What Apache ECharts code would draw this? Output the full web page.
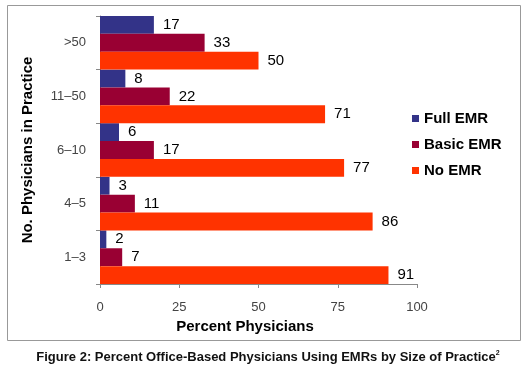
<!DOCTYPE html>
<html>
<head>
<meta charset="utf-8">
<script src="https://cdn.jsdelivr.net/npm/echarts@6/dist/echarts.min.js"></script>
<style>
  html, body { margin: 0; padding: 0; background: #fff; }
  #chart { width: 527px; height: 377px; }
</style>
</head>
<body>
<div id="chart"></div>
<script>
var practiceSizes = ['>50', '11\u201350', '6\u201310', '4\u20135', '1\u20133'];
var fullEmr = [17, 8, 6, 3, 2];
var basicEmr = [33, 22, 17, 11, 7];
var noEmr = [50, 71, 77, 86, 91];
var xTicks = [0, 25, 50, 75, 100];

var myChart = echarts.init(document.getElementById('chart'));

var labelStyle = {
  show: true,
  position: 'right',
  distance: 9,
  color: '#000',
  fontFamily: 'Liberation Sans, Arial, sans-serif',
  fontSize: 15
};

var option = {
  backgroundColor: '#fff',
  animation: false,
  grid: {
    left: 100,
    right: 110,
    top: 16,
    bottom: 93
  },
  legend: {
    orient: 'vertical',
    left: 407,
    top: 106,
    itemWidth: 7,
    itemHeight: 7,
    itemGap: 11,
    icon: 'rect',
    textStyle: {
      fontFamily: 'Liberation Sans, Arial, sans-serif',
      fontWeight: 'bold',
      fontSize: 15,
      color: '#000'
    },
    data: ['Full EMR', 'Basic EMR', 'No EMR']
  },
  xAxis: {
    type: 'value',
    min: 0,
    max: 100,
    interval: 25,
    splitLine: { show: false },
    axisLine: { show: true, lineStyle: { color: '#888' } },
    axisTick: { show: true, length: 4, lineStyle: { color: '#888' } },
    axisLabel: {
      margin: 17,
      color: '#444',
      fontFamily: 'Liberation Sans, Arial, sans-serif',
      fontSize: 13,
      formatter: function (v) { return xTicks.indexOf(v) >= 0 ? String(v) : ''; }
    }
  },
  yAxis: {
    type: 'category',
    inverse: true,
    data: practiceSizes,
    axisLine: { show: true, lineStyle: { color: '#888' } },
    axisTick: { show: true, length: 4, lineStyle: { color: '#888' } },
    axisLabel: {
      margin: 14,
      color: '#444',
      fontFamily: 'Liberation Sans, Arial, sans-serif',
      fontSize: 13
    }
  },
  series: [
    { name: 'Full EMR', type: 'bar', data: fullEmr, color: '#333388',
      barGap: '0%', barCategoryGap: '0%', label: labelStyle },
    { name: 'Basic EMR', type: 'bar', data: basicEmr, color: '#990033',
      label: labelStyle },
    { name: 'No EMR', type: 'bar', data: noEmr, color: '#FF3300',
      label: labelStyle }
  ],
  graphic: [
    {
      type: 'rect',
      shape: { x: 7.5, y: 5.5, width: 513, height: 335 },
      style: { fill: 'none', stroke: '#999', lineWidth: 1 },
      silent: true
    },
    {
      type: 'text',
      x: 28, y: 150,
      rotation: Math.PI / 2,
      style: {
        text: 'No. Physicians in Practice',
        fontFamily: 'Liberation Sans, Arial, sans-serif',
        fontWeight: 'bold',
        fontSize: 15,
        fill: '#000',
        align: 'center',
        verticalAlign: 'middle'
      }
    },
    {
      type: 'text',
      x: 245, y: 327,
      style: {
        text: 'Percent Physicians',
        fontFamily: 'Liberation Sans, Arial, sans-serif',
        fontWeight: 'bold',
        fontSize: 15,
        fill: '#000',
        align: 'center',
        verticalAlign: 'middle'
      }
    },
    {
      type: 'text',
      x: 268, y: 357,
      style: {
        rich: {
          m: { fontFamily: 'Liberation Sans, Arial, sans-serif', fontWeight: 'bold', fontSize: 13, fill: '#111' },
          s: { fontFamily: 'Liberation Sans, Arial, sans-serif', fontWeight: 'bold', fontSize: 7, fill: '#111', verticalAlign: 'top', padding: [0, 0, 7, 0] }
        },
        text: '{m|Figure 2: Percent Office-Based Physicians Using EMRs by Size of Practice}{s|2}',
        align: 'center',
        verticalAlign: 'middle'
      }
    }
  ]
};

myChart.setOption(option);
window.onresize = function () { myChart.resize(); };
</script>
</body>
</html>
